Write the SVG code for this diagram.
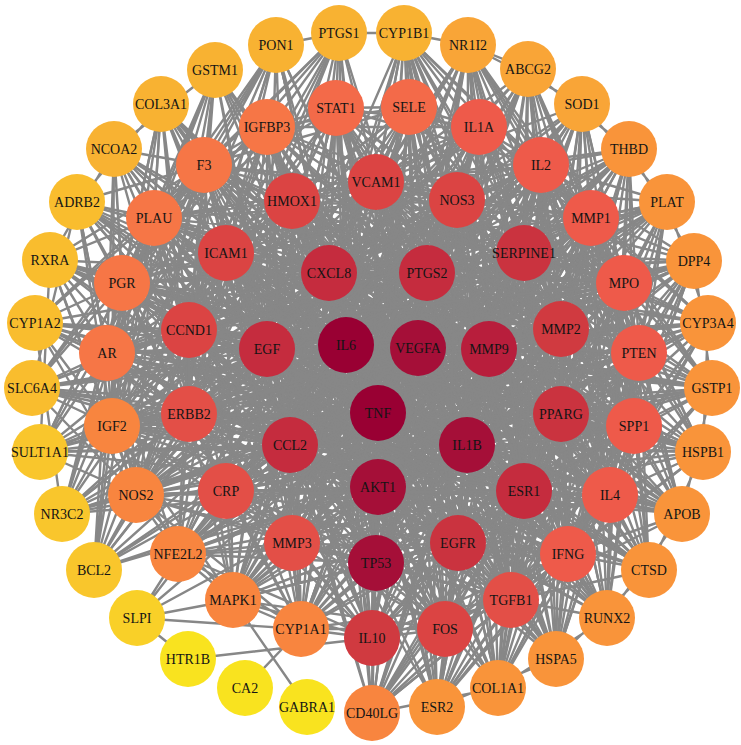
<svg xmlns="http://www.w3.org/2000/svg" width="741" height="745" viewBox="0 0 741 745">
<style>
.e path{fill:none;stroke:#878787;stroke-width:2.4;stroke-linejoin:round;stroke-linecap:round}
.n text{font-family:"Liberation Serif","Times New Roman",serif;font-size:14px;text-anchor:middle;fill:#141414}
.k0{fill:#990033}.k1{fill:#a50f38}.k2{fill:#b81e3c}.k3{fill:#c52c3e}.k4{fill:#ca333f}.k5{fill:#d03a40}.k6{fill:#db4443}.k7{fill:#e34f47}.k8{fill:#ee5a4a}.k9{fill:#f36a49}.k10{fill:#f67646}.k11{fill:#f8853f}.k12{fill:#f9943a}.k13{fill:#f9a537}.k14{fill:#f8b232}.k15{fill:#f9bd2e}.k16{fill:#f9c62c}.k16b{fill:#f9d028}.k17{fill:#f9e31f}
</style>
<rect width="741" height="745" fill="#ffffff"/>
<g id="edges" class="e">
<path d="M346 345L376 182 418 348 457 200 346 345 524 253 418 348 561 329 346 345 561 414 418 348 524 491 346 345 458 543 418 348 376 563 346 345 292 543 418 348 226 491 346 345 189 414 418 348 189 330 346 345 226 253 418 348 292 201 346 345 336 108 418 348 409 107 346 345 479 127 418 348 541 165 346 345 591 218 418 348 624 283 346 345 639 353 418 348 634 426 346 345 610 495 418 348 568 554 346 345 511 600 418 348 445 629 346 345 372 638 418 348 301 629 346 345 233 600 418 348 178 554 346 345 136 495 418 348 112 426 346 345 107 353 418 348 122 283 346 345 154 218 418 348 204 165 346 345 267 127 418 348"/>
<path d="M378 413L376 182 378 487 457 200 378 413 524 253 378 487 561 329 378 413 561 414 378 487 524 491 378 413 458 543 378 487 376 563 378 413 292 543 378 487 226 491 378 413 189 414 378 487 189 330 378 413 226 253 378 487 292 201 378 413 336 108 378 487 409 107 378 413 479 127 378 487 541 165 378 413 591 218 378 487 624 283 378 413 639 353 378 487 634 426 378 413 610 495 378 487 568 554 378 413 511 600 378 487 445 629 378 413 372 638 378 487 301 629 378 413 233 600 378 487 178 554 378 413 136 495 378 487 112 426 378 413 107 353 378 487 122 283 378 413 154 218 378 487 204 165 378 413 267 127 378 487"/>
<path d="M467 445L376 182 489 349 457 200 467 445 524 253 489 349 561 329 467 445 561 414 489 349 524 491 467 445 458 543 489 349 376 563 467 445 292 543 489 349 226 491 467 445 189 414 489 349 189 330 467 445 226 253 489 349 292 201 467 445 336 108 489 349 409 107 467 445 479 127 489 349 541 165 467 445 591 218 489 349 624 283 467 445 639 353 489 349 634 426 467 445 610 495 489 349 568 554 467 445 511 600 489 349 445 629 467 445 372 638 489 349 301 629 467 445 233 600 489 349 178 554 467 445 136 495 489 349 112 426 467 445 107 353 489 349 122 283 467 445 154 218 489 349 204 165 467 445 267 127 489 349"/>
<path d="M427 273L376 182 329 273 457 200 427 273 524 253 329 273 561 329 427 273 561 414 329 273 524 491 427 273 458 543 329 273 376 563 427 273 292 543 329 273 226 491 427 273 189 414 329 273 189 330 427 273 226 253 329 273 292 201 427 273 336 108 329 273 409 107 427 273 479 127 329 273 541 165 427 273 591 218 329 273 624 283 427 273 639 353 329 273 634 426 427 273 610 495 329 273 568 554 427 273 511 600 329 273 445 629 427 273 372 638 329 273 301 629 427 273 233 600 329 273 178 554 427 273 136 495 329 273 112 426 427 273 107 353 329 273 122 283 427 273 154 218 329 273 204 165 427 273 267 127 329 273"/>
<path d="M290 445L376 182 267 349 457 200 290 445 524 253 267 349 561 329 290 445 561 414 267 349 524 491 290 445 458 543 267 349 376 563 290 445 292 543 267 349 226 491 290 445 189 414 267 349 189 330 290 445 226 253 267 349 292 201 290 445 336 108 267 349 409 107 290 445 479 127 267 349 541 165 290 445 591 218 267 349 624 283 290 445 639 353 267 349 634 426 290 445 610 495 267 349 568 554 290 445 511 600 267 349 445 629 290 445 372 638 267 349 301 629 290 445 233 600 267 349 178 554 290 445 136 495 267 349 112 426 290 445 107 353 267 349 122 283 290 445 154 218 267 349 204 165 290 445 267 127 267 349"/>
<path d="M346 345L418 348 378 413 346 345 378 487 418 348 467 445 378 413 489 349 346 345 427 273 418 348 329 273 346 345 290 445 378 413 267 349 346 345 467 445 378 487 489 349 418 348 290 445 378 487 267 349 329 273 427 273 489 349 467 445 290 445 267 349 378 413 427 273 378 487 329 273"/>
<path d="M346 345L582 104 418 348 629 149 346 345 667 202 418 348 694 261 346 345 708 323 418 348 712 388 346 345 703 452 418 348 682 514 346 345 649 570 418 348 607 618 346 345 556 659 418 348 498 688 346 345 437 707 418 348 372 713 346 345 468 45 418 348 528 69 346 345 404 33 418 348"/>
<path d="M378 413L582 104 378 487 629 149 378 413 667 202 378 487 694 261 378 413 708 323 378 487 712 388 378 413 703 452 378 487 682 514 378 413 649 570 378 487 607 618 378 413 556 659 378 487 498 688 378 413 437 707 378 487 372 713 378 413 468 45 378 487 528 69 378 413 404 33 378 487"/>
<path d="M467 445L582 104 489 349 629 149 467 445 667 202 489 349 694 261 467 445 708 323 489 349 712 388 467 445 703 452 489 349 682 514 467 445 649 570 489 349 607 618 467 445 556 659 489 349 498 688 467 445 437 707 489 349 372 713 467 445 468 45 489 349 528 69 467 445 404 33 489 349"/>
<path d="M427 273L582 104 329 273 629 149 427 273 667 202 329 273 694 261 427 273 708 323 329 273 712 388 427 273 703 452 329 273 682 514 427 273 649 570 329 273 607 618 427 273 556 659 329 273 498 688 427 273 437 707 329 273 372 713 427 273 468 45 329 273 528 69 427 273 404 33 329 273"/>
<path d="M290 445L582 104 267 349 629 149 290 445 667 202 267 349 694 261 290 445 708 323 267 349 712 388 290 445 703 452 267 349 682 514 290 445 649 570 267 349 607 618 290 445 556 659 267 349 498 688 290 445 437 707 267 349 372 713 290 445 468 45 267 349 528 69 290 445 404 33 267 349"/>
<path d="M624 283L582 104 610 495 629 149 624 283 667 202 610 495 694 261 624 283 708 323 610 495 712 388 624 283 703 452 610 495 682 514 624 283 649 570 610 495 607 618 624 283 556 659 610 495 498 688 624 283 437 707 610 495 372 713 624 283 468 45 610 495 528 69 624 283 404 33 610 495"/>
<path d="M541 165L582 104 568 554 629 149 541 165 667 202 568 554 694 261 541 165 708 323 568 554 712 388 541 165 703 452 568 554 682 514 541 165 649 570 568 554 607 618 541 165 556 659 568 554 498 688 541 165 437 707 568 554 372 713 541 165 468 45 568 554 528 69 541 165 404 33 568 554"/>
<path d="M639 353L582 104 511 600 629 149 639 353 667 202 511 600 694 261 639 353 708 323 511 600 712 388 639 353 703 452 511 600 682 514 639 353 649 570 511 600 607 618 639 353 556 659 511 600 498 688 639 353 437 707 511 600 372 713 639 353 468 45 511 600 528 69 639 353 404 33 511 600"/>
<path d="M591 218L582 104 634 426 629 149 591 218 667 202 634 426 694 261 591 218 708 323 634 426 712 388 591 218 703 452 634 426 682 514 591 218 649 570 634 426 607 618 591 218 556 659 634 426 498 688 591 218 437 707 634 426 372 713 591 218 468 45 634 426 528 69 591 218 404 33 634 426"/>
<path d="M524 253L582 104 524 491 629 149 524 253 667 202 524 491 694 261 524 253 708 323 524 491 712 388 524 253 703 452 524 491 682 514 524 253 649 570 524 491 607 618 524 253 556 659 524 491 498 688 524 253 437 707 524 491 372 713 524 253 468 45 524 491 528 69 524 253 404 33 524 491"/>
<path d="M561 414L582 104 376 182 629 149 561 414 667 202 376 182 694 261 561 414 708 323 376 182 712 388 561 414 703 452 376 182 682 514 561 414 649 570 376 182 607 618 561 414 556 659 376 182 498 688 561 414 437 707 376 182 372 713 561 414 468 45 376 182 528 69 561 414 404 33 376 182"/>
<path d="M346 345L339 33 378 413 276 45 346 345 215 70 378 413 161 104 346 345 114 149 378 413 77 202 346 345 50 260 378 413 35 323 346 345 32 388 378 413 40 452 346 345 62 514 378 413 94 570 346 345"/>
<path d="M418 348L339 33 378 487 276 45 418 348 215 70 378 487 161 104 418 348 114 149 378 487 77 202 418 348 50 260 378 487 35 323 418 348 32 388 378 487 40 452 418 348 62 514 378 487 94 570 418 348"/>
<path d="M267 349L339 33 290 445 276 45 267 349 215 70 290 445 161 104 267 349 114 149 290 445 77 202 267 349 50 260 290 445 35 323 267 349 32 388 290 445 40 452 267 349 62 514 290 445 94 570 267 349"/>
<path d="M329 273L339 33 467 445 276 45 329 273 215 70 467 445 161 104 329 273 114 149 467 445 77 202 329 273 50 260 467 445 35 323 329 273 32 388 467 445 40 452 329 273 62 514 467 445 94 570 329 273"/>
<path d="M122 283L339 33 136 495 276 45 122 283 215 70 136 495 161 104 122 283 114 149 136 495 77 202 122 283 50 260 136 495 35 323 122 283 32 388 136 495 40 452 122 283 62 514 136 495 94 570 122 283"/>
<path d="M154 218L339 33 112 426 276 45 154 218 215 70 112 426 161 104 154 218 114 149 112 426 77 202 154 218 50 260 112 426 35 323 154 218 32 388 112 426 40 452 154 218 62 514 112 426 94 570 154 218"/>
<path d="M204 165L339 33 107 353 276 45 204 165 215 70 107 353 161 104 204 165 114 149 107 353 77 202 204 165 50 260 107 353 35 323 204 165 32 388 107 353 40 452 204 165 62 514 107 353 94 570 204 165"/>
<path d="M189 330L339 33 189 414 276 45 189 330 215 70 189 414 161 104 189 330 114 149 189 414 77 202 189 330 50 260 189 414 35 323 189 330 32 388 189 414 40 452 189 330 62 514 189 414 94 570 189 330"/>
<path d="M376 182L336 108 376 563 409 107 376 182 479 127 376 563 541 165 376 182 591 218 376 563 624 283 376 182 639 353 376 563 634 426 376 182 610 495 376 563 568 554 376 182 511 600 376 563 445 629 376 182 372 638 376 563 301 629 376 182 233 600 376 563 178 554 376 182 136 495 376 563 112 426 376 182 107 353 376 563 122 283 376 182 154 218 376 563 204 165 376 182 267 127 376 563"/>
<path d="M226 253L336 108 561 414 409 107 226 253 479 127 561 414 541 165 226 253 591 218 561 414 624 283 226 253 639 353 561 414 634 426 226 253 610 495 561 414 568 554 226 253 511 600 561 414 445 629 226 253 372 638 561 414 301 629 226 253 233 600 561 414 178 554 226 253 136 495 561 414 112 426 226 253 107 353 561 414 122 283 226 253 154 218 561 414 204 165 226 253 267 127 561 414"/>
<path d="M292 201L336 108 458 543 409 107 292 201 479 127 458 543 541 165 292 201 591 218 458 543 624 283 292 201 639 353 458 543 634 426 292 201 610 495 458 543 568 554 292 201 511 600 458 543 445 629 292 201 372 638 458 543 301 629 292 201 233 600 458 543 178 554 292 201 136 495 458 543 112 426 292 201 107 353 458 543 122 283 292 201 154 218 458 543 204 165 292 201 267 127 458 543"/>
<path d="M524 253L336 108 226 491 409 107 524 253 479 127 226 491 541 165 524 253 591 218 226 491 624 283 524 253 639 353 226 491 634 426 524 253 610 495 226 491 568 554 524 253 511 600 226 491 445 629 524 253 372 638 226 491 301 629 524 253 233 600 226 491 178 554 524 253 136 495 226 491 112 426 524 253 107 353 226 491 122 283 524 253 154 218 226 491 204 165 524 253 267 127 226 491"/>
<path d="M561 329L336 108 189 414 409 107 561 329 479 127 189 414 541 165 561 329 591 218 189 414 624 283 561 329 639 353 189 414 634 426 561 329 610 495 189 414 568 554 561 329 511 600 189 414 445 629 561 329 372 638 189 414 301 629 561 329 233 600 189 414 178 554 561 329 136 495 189 414 112 426 561 329 107 353 189 414 122 283 561 329 154 218 189 414 204 165 561 329 267 127 189 414"/>
<path d="M457 200L336 108 292 543 409 107 457 200 479 127 292 543 541 165 457 200 591 218 292 543 624 283 457 200 639 353 292 543 634 426 457 200 610 495 292 543 568 554 457 200 511 600 292 543 445 629 457 200 372 638 292 543 301 629 457 200 233 600 292 543 178 554 457 200 136 495 292 543 112 426 457 200 107 353 292 543 122 283 457 200 154 218 292 543 204 165 457 200 267 127 292 543"/>
<path d="M189 330L336 108 524 491 409 107 189 330 479 127 524 491 541 165 189 330 591 218 524 491 624 283 189 330 639 353 524 491 634 426 189 330 610 495 524 491 568 554 189 330 511 600 524 491 445 629 189 330 372 638 524 491 301 629 189 330 233 600 524 491 178 554 189 330 136 495 524 491 112 426 189 330 107 353 524 491 122 283 189 330 154 218 524 491 204 165 189 330 267 127 524 491"/>
<path d="M336 108L409 107 479 127 541 165 591 218 624 283 639 353 634 426 610 495 568 554 511 600 445 629 372 638 301 629 233 600 178 554 136 495 112 426 107 353 122 283 154 218 204 165 267 127Z"/>
<path d="M336 108L479 127 591 218 639 353 610 495 511 600 372 638 233 600 136 495 107 353 154 218 267 127 409 107 541 165 624 283 634 426 568 554 445 629 301 629 178 554 112 426 122 283 204 165 336 108"/>
<path d="M336 108L541 165 639 353 568 554 372 638 178 554 107 353 204 165 409 107 591 218 634 426 511 600 301 629 136 495 122 283 267 127 479 127 624 283 610 495 445 629 233 600 112 426 154 218 336 108"/>
<path d="M376 182L457 200 524 253 561 329 561 414 524 491 458 543 376 563 292 543 226 491 189 414 189 330 226 253 292 201Z"/>
<path d="M137 618L301 629M137 618L233 600M137 618L178 554M137 618L378 413M137 618L346 345M137 618L378 487M137 618L188 659M188 659L372 638M245 688L301 629M307 707L233 600"/>
<path d="M339 33L404 33M404 33L468 45M468 45L528 69M276 45L339 33M582 104L667 202M629 149L694 261M667 202L708 323M694 261L712 388M708 323L703 452M712 388L682 514M703 452L649 570M682 514L607 618M649 570L556 659M607 618L498 688M556 659L437 707M498 688L372 713M528 69L629 149M468 45L582 104M50 260L40 452M35 323L62 514M77 202L32 388M114 149L50 260M161 104L77 202M215 70L114 149"/>
</g>
<g id="nodes" class="n">
<g id="n-IL6"><circle class="k0" cx="346" cy="345" r="28"/><text x="346" y="350">IL6</text></g>
<g id="n-VEGFA"><circle class="k1" cx="418" cy="348" r="28"/><text x="418" y="353">VEGFA</text></g>
<g id="n-TNF"><circle class="k0" cx="378" cy="413" r="28"/><text x="378" y="418">TNF</text></g>
<g id="n-AKT1"><circle class="k1" cx="378" cy="487" r="28"/><text x="378" y="492">AKT1</text></g>
<g id="n-IL1B"><circle class="k1" cx="467" cy="445" r="28"/><text x="467" y="450">IL1B</text></g>
<g id="n-MMP9"><circle class="k2" cx="489" cy="349" r="28"/><text x="489" y="354">MMP9</text></g>
<g id="n-PTGS2"><circle class="k3" cx="427" cy="273" r="28"/><text x="427" y="278">PTGS2</text></g>
<g id="n-CXCL8"><circle class="k3" cx="329" cy="273" r="28"/><text x="329" y="278">CXCL8</text></g>
<g id="n-CCL2"><circle class="k3" cx="290" cy="445" r="28"/><text x="290" y="450">CCL2</text></g>
<g id="n-EGF"><circle class="k3" cx="267" cy="349" r="28"/><text x="267" y="354">EGF</text></g>
<g id="n-VCAM1"><circle class="k6" cx="376" cy="182" r="28"/><text x="376" y="187">VCAM1</text></g>
<g id="n-NOS3"><circle class="k6" cx="457" cy="200" r="28"/><text x="457" y="205">NOS3</text></g>
<g id="n-SERPINE1"><circle class="k4" cx="524" cy="253" r="28"/><text x="524" y="258">SERPINE1</text></g>
<g id="n-MMP2"><circle class="k5" cx="561" cy="329" r="28"/><text x="561" y="334">MMP2</text></g>
<g id="n-PPARG"><circle class="k4" cx="561" cy="414" r="28"/><text x="561" y="419">PPARG</text></g>
<g id="n-ESR1"><circle class="k3" cx="524" cy="491" r="28"/><text x="524" y="496">ESR1</text></g>
<g id="n-EGFR"><circle class="k4" cx="458" cy="543" r="28"/><text x="458" y="548">EGFR</text></g>
<g id="n-TP53"><circle class="k1" cx="376" cy="563" r="28"/><text x="376" y="568">TP53</text></g>
<g id="n-MMP3"><circle class="k7" cx="292" cy="543" r="28"/><text x="292" y="548">MMP3</text></g>
<g id="n-CRP"><circle class="k7" cx="226" cy="491" r="28"/><text x="226" y="496">CRP</text></g>
<g id="n-ERBB2"><circle class="k7" cx="189" cy="414" r="28"/><text x="189" y="419">ERBB2</text></g>
<g id="n-CCND1"><circle class="k6" cx="189" cy="330" r="28"/><text x="189" y="335">CCND1</text></g>
<g id="n-ICAM1"><circle class="k6" cx="226" cy="253" r="28"/><text x="226" y="258">ICAM1</text></g>
<g id="n-HMOX1"><circle class="k6" cx="292" cy="201" r="28"/><text x="292" y="206">HMOX1</text></g>
<g id="n-STAT1"><circle class="k9" cx="336" cy="108" r="28"/><text x="336" y="113">STAT1</text></g>
<g id="n-SELE"><circle class="k9" cx="409" cy="107" r="28"/><text x="409" y="112">SELE</text></g>
<g id="n-IL1A"><circle class="k8" cx="479" cy="127" r="28"/><text x="479" y="132">IL1A</text></g>
<g id="n-IL2"><circle class="k8" cx="541" cy="165" r="28"/><text x="541" y="170">IL2</text></g>
<g id="n-MMP1"><circle class="k8" cx="591" cy="218" r="28"/><text x="591" y="223">MMP1</text></g>
<g id="n-MPO"><circle class="k8" cx="624" cy="283" r="28"/><text x="624" y="288">MPO</text></g>
<g id="n-PTEN"><circle class="k8" cx="639" cy="353" r="28"/><text x="639" y="358">PTEN</text></g>
<g id="n-SPP1"><circle class="k8" cx="634" cy="426" r="28"/><text x="634" y="431">SPP1</text></g>
<g id="n-IL4"><circle class="k8" cx="610" cy="495" r="28"/><text x="610" y="500">IL4</text></g>
<g id="n-IFNG"><circle class="k8" cx="568" cy="554" r="28"/><text x="568" y="559">IFNG</text></g>
<g id="n-TGFB1"><circle class="k7" cx="511" cy="600" r="28"/><text x="511" y="605">TGFB1</text></g>
<g id="n-FOS"><circle class="k6" cx="445" cy="629" r="28"/><text x="445" y="634">FOS</text></g>
<g id="n-IL10"><circle class="k5" cx="372" cy="638" r="28"/><text x="372" y="643">IL10</text></g>
<g id="n-CYP1A1"><circle class="k11" cx="301" cy="629" r="28"/><text x="301" y="634">CYP1A1</text></g>
<g id="n-MAPK1"><circle class="k11" cx="233" cy="600" r="28"/><text x="233" y="605">MAPK1</text></g>
<g id="n-NFE2L2"><circle class="k11" cx="178" cy="554" r="28"/><text x="178" y="559">NFE2L2</text></g>
<g id="n-NOS2"><circle class="k11" cx="136" cy="495" r="28"/><text x="136" y="500">NOS2</text></g>
<g id="n-IGF2"><circle class="k11" cx="112" cy="426" r="28"/><text x="112" y="431">IGF2</text></g>
<g id="n-AR"><circle class="k10" cx="107" cy="353" r="28"/><text x="107" y="358">AR</text></g>
<g id="n-PGR"><circle class="k10" cx="122" cy="283" r="28"/><text x="122" y="288">PGR</text></g>
<g id="n-PLAU"><circle class="k10" cx="154" cy="218" r="28"/><text x="154" y="223">PLAU</text></g>
<g id="n-F3"><circle class="k10" cx="204" cy="165" r="28"/><text x="204" y="170">F3</text></g>
<g id="n-IGFBP3"><circle class="k10" cx="267" cy="127" r="28"/><text x="267" y="132">IGFBP3</text></g>
<g id="n-PTGS1"><circle class="k14" cx="339" cy="33" r="28"/><text x="339" y="38">PTGS1</text></g>
<g id="n-CYP1B1"><circle class="k14" cx="404" cy="33" r="28"/><text x="404" y="38">CYP1B1</text></g>
<g id="n-NR1I2"><circle class="k13" cx="468" cy="45" r="28"/><text x="468" y="50">NR1I2</text></g>
<g id="n-ABCG2"><circle class="k13" cx="528" cy="69" r="28"/><text x="528" y="74">ABCG2</text></g>
<g id="n-SOD1"><circle class="k13" cx="582" cy="104" r="28"/><text x="582" y="109">SOD1</text></g>
<g id="n-THBD"><circle class="k12" cx="629" cy="149" r="28"/><text x="629" y="154">THBD</text></g>
<g id="n-PLAT"><circle class="k12" cx="667" cy="202" r="28"/><text x="667" y="207">PLAT</text></g>
<g id="n-DPP4"><circle class="k12" cx="694" cy="261" r="28"/><text x="694" y="266">DPP4</text></g>
<g id="n-CYP3A4"><circle class="k12" cx="708" cy="323" r="28"/><text x="708" y="328">CYP3A4</text></g>
<g id="n-GSTP1"><circle class="k12" cx="712" cy="388" r="28"/><text x="712" y="393">GSTP1</text></g>
<g id="n-HSPB1"><circle class="k12" cx="703" cy="452" r="28"/><text x="703" y="457">HSPB1</text></g>
<g id="n-APOB"><circle class="k12" cx="682" cy="514" r="28"/><text x="682" y="519">APOB</text></g>
<g id="n-CTSD"><circle class="k12" cx="649" cy="570" r="28"/><text x="649" y="575">CTSD</text></g>
<g id="n-RUNX2"><circle class="k12" cx="607" cy="618" r="28"/><text x="607" y="623">RUNX2</text></g>
<g id="n-HSPA5"><circle class="k12" cx="556" cy="659" r="28"/><text x="556" y="664">HSPA5</text></g>
<g id="n-COL1A1"><circle class="k12" cx="498" cy="688" r="28"/><text x="498" y="693">COL1A1</text></g>
<g id="n-ESR2"><circle class="k12" cx="437" cy="707" r="28"/><text x="437" y="712">ESR2</text></g>
<g id="n-CD40LG"><circle class="k11" cx="372" cy="713" r="28"/><text x="372" y="718">CD40LG</text></g>
<g id="n-GABRA1"><circle class="k17" cx="307" cy="707" r="28"/><text x="307" y="712">GABRA1</text></g>
<g id="n-CA2"><circle class="k17" cx="245" cy="688" r="28"/><text x="245" y="693">CA2</text></g>
<g id="n-HTR1B"><circle class="k17" cx="188" cy="659" r="28"/><text x="188" y="664">HTR1B</text></g>
<g id="n-SLPI"><circle class="k16b" cx="137" cy="618" r="28"/><text x="137" y="623">SLPI</text></g>
<g id="n-BCL2"><circle class="k16" cx="94" cy="570" r="28"/><text x="94" y="575">BCL2</text></g>
<g id="n-NR3C2"><circle class="k16" cx="62" cy="514" r="28"/><text x="62" y="519">NR3C2</text></g>
<g id="n-SULT1A1"><circle class="k16" cx="40" cy="452" r="28"/><text x="40" y="457">SULT1A1</text></g>
<g id="n-SLC6A4"><circle class="k15" cx="32" cy="388" r="28"/><text x="32" y="393">SLC6A4</text></g>
<g id="n-CYP1A2"><circle class="k15" cx="35" cy="323" r="28"/><text x="35" y="328">CYP1A2</text></g>
<g id="n-RXRA"><circle class="k15" cx="50" cy="260" r="28"/><text x="50" y="265">RXRA</text></g>
<g id="n-ADRB2"><circle class="k15" cx="77" cy="202" r="28"/><text x="77" y="207">ADRB2</text></g>
<g id="n-NCOA2"><circle class="k14" cx="114" cy="149" r="28"/><text x="114" y="154">NCOA2</text></g>
<g id="n-COL3A1"><circle class="k14" cx="161" cy="104" r="28"/><text x="161" y="109">COL3A1</text></g>
<g id="n-GSTM1"><circle class="k14" cx="215" cy="70" r="28"/><text x="215" y="75">GSTM1</text></g>
<g id="n-PON1"><circle class="k14" cx="276" cy="45" r="28"/><text x="276" y="50">PON1</text></g>
</g>
</svg>
